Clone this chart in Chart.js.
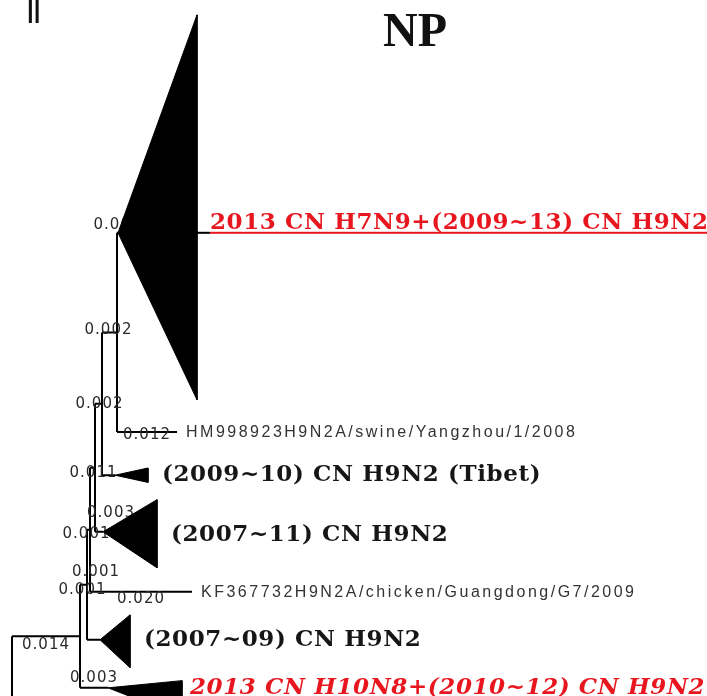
<!DOCTYPE html>
<html lang="en">
<head>
<meta charset="UTF-8">
<title>NP tree</title>
<script src="https://cdn.jsdelivr.net/npm/chart.js"></script>
<style>
  html, body { margin: 0; padding: 0; background: #fff; }
  #wrap { width: 707px; height: 696px; }
</style>
</head>
<body>
<div id="wrap"><canvas id="tree" width="707" height="696"></canvas></div>
<script>
// tree topology: every node, its parent and the branch length drawn to it
const nodeNames   = ['root', 'E', 'G', 'D', 'C', 'A', 'B', 'big', 'HM998923', 'tibet', 'c0711', 'KF367732', 'c0709', 'h10n8', 'out'];
const nodeParents = [null, 'root', 'E', 'G', 'D', 'C', 'A', 'B', 'B', 'A', 'C', 'D', 'G', 'E', 'root'];
const branchLens  = [0, 0.0136, 0.0014, 0.0006, 0.0010, 0.0014, 0.0030, 0.0002, 0.0120, 0.0026, 0.0016, 0.0204, 0.0026, 0.0056, 0.0100];

// leaves in drawing order (row = vertical slot)
const leafNames = ['big', 'HM998923', 'tibet', 'c0711', 'KF367732', 'c0709', 'h10n8', 'out'];
const leafRows  = [4.85, 9.0, 9.9, 11.08, 12.33, 13.33, 14.33, 16];

// collapsed clades (triangles): depth of the clade and its extent above / below
const cladeNames  = ['big', 'tibet', 'c0711', 'c0709', 'h10n8'];
const cladeDepth  = [0.0158, 0.0066, 0.0108, 0.0060, 0.0148];
const cladeUp     = [4.54, 0.15, 0.67, 0.52, 0.15];
const cladeDown   = [3.48, 0.15, 0.75, 0.58, 0.60];
const cladeLabels = ['2013 CN H7N9+(2009~13) CN H9N2', '(2009~10) CN H9N2 (Tibet)', '(2007~11) CN H9N2',
                     '(2007~09) CN H9N2', '2013 CN H10N8+(2010~12) CN H9N2'];
const cladeRed    = [true, false, false, false, true];

// single sequences
const seqNames  = ['HM998923', 'KF367732'];
const seqLabels = ['HM998923H9N2A/swine/Yangzhou/1/2008', 'KF367732H9N2A/chicken/Guangdong/G7/2009'];

// branch length labels and the branch (child node) they belong to
const blText   = ['0.001', '0.002', '0.002', '0.012', '0.011', '0.003', '0.001', '0.001', '0.001', '0.020', '0.014', '0.003'];
const blBranch = ['big', 'B', 'A', 'HM998923', 'C', 'c0711', 'D', 'c0711', 'G', 'KF367732', 'E', 'h10n8'];
// pixel nudges for the labels [dx, dy]
const blNudge  = [[0, -8], [-1, -2], [1, 0], [0, 3], [1, 5], [12, -19], [-2, 4], [-3, 40], [-1, 5], [0, 7], [0, 9], [0, -10]];

const RED = '#e8171f';

// build depth and row of every node
const depth = {}, row = {}, kids = {};
nodeNames.forEach((n, i) => {
    const p = nodeParents[i];
    if (p) (kids[p] = kids[p] || []).push(n);
});
nodeNames.forEach((n, i) => {
    const p = nodeParents[i];
    depth[n] = (p ? depth[p] : 0) + branchLens[i];
});
leafNames.forEach((n, i) => row[n] = leafRows[i]);
function rowOf(n) {
    if (row[n] !== undefined) return row[n];
    const r = kids[n].map(rowOf);
    row[n] = (Math.min(...r) + Math.max(...r)) / 2;
    return row[n];
}
rowOf('root');

// branch segments
const branchPts = [];
nodeNames.forEach((n, i) => {
    const p = nodeParents[i];
    if (p) branchPts.push({x: depth[p], y: row[n]}, {x: depth[n], y: row[n]}, {x: depth[n], y: null});
    if (kids[n]) {
        const r = kids[n].map(k => row[k]);
        branchPts.push({x: depth[n], y: Math.min(...r)}, {x: depth[n], y: Math.max(...r)}, {x: depth[n], y: null});
    }
});

const datasets = [{
    label: 'branches',
    data: branchPts,
    borderColor: '#000',
    borderWidth: 2,
    pointRadius: 0,
    spanGaps: false,
    fill: false,
    order: 10
}];
cladeNames.forEach((n, i) => {
    const x0 = depth[n], x1 = depth[n] + cladeDepth[i], r = row[n];
    datasets.push({
        label: n,
        data: [{x: x0, y: r}, {x: x1, y: r - cladeUp[i]}, {x: x1, y: r + cladeDown[i]}, {x: x0, y: r}],
        borderColor: '#000',
        backgroundColor: '#000',
        borderWidth: 1,
        pointRadius: 0,
        fill: 'shape',
        order: 1
    });
});

const treeText = {
    id: 'treeText',
    afterDatasetDraw(chart, args) {
        if (args.index !== 0) return;
        const {ctx, scales: {x, y}} = chart;
        ctx.save();
        ctx.font = '15px "DejaVu Sans"';
        ctx.letterSpacing = '1px';
        ctx.fillStyle = '#2a2a2a';
        ctx.textAlign = 'center';
        ctx.textBaseline = 'middle';
        blText.forEach((t, i) => {
            const n = blBranch[i];
            const p = nodeParents[nodeNames.indexOf(n)];
            const px = (x.getPixelForValue(depth[p]) + x.getPixelForValue(depth[n])) / 2 + blNudge[i][0];
            const py = y.getPixelForValue(row[n]) + blNudge[i][1];
            ctx.fillText(t, px, py);
        });
        ctx.restore();
    },
    afterDraw(chart) {
        const {ctx, scales: {x, y}} = chart;
        ctx.save();
        // panel mark and title
        ctx.fillStyle = '#111';
        ctx.textBaseline = 'alphabetic';
        ctx.font = 'bold 24px "Liberation Sans"';
        ctx.fillText('||', 27, 18);
        ctx.font = 'bold 48px "Liberation Serif"';
        ctx.textAlign = 'center';
        ctx.fillText('NP', 415, 46);

        // single sequence names
        ctx.textAlign = 'left';
        ctx.textBaseline = 'middle';
        ctx.font = '16px "Liberation Sans"';
        ctx.letterSpacing = '2.5px';
        ctx.fillStyle = '#333';
        seqNames.forEach((n, i) => {
            ctx.fillText(seqLabels[i], x.getPixelForValue(depth[n]) + 9, y.getPixelForValue(row[n]) + 1);
        });

        // clade names
        ctx.letterSpacing = '0.6px';
        cladeNames.forEach((n, i) => {
            const xr = x.getPixelForValue(depth[n] + cladeDepth[i]);
            const py = y.getPixelForValue(row[n]);
            ctx.fillStyle = cladeRed[i] ? RED : '#161616';
            ctx.font = (i === 4 ? 'italic ' : '') + 'bold 23px "DejaVu Serif"';
            if (i === 0) {
                const tx = xr + 13;
                ctx.textBaseline = 'alphabetic';
                ctx.fillText(cladeLabels[i], tx, py - 4);
                const w = ctx.measureText(cladeLabels[i]).width;
                ctx.fillRect(tx, py - 1, w, 2);
                ctx.fillStyle = '#000';
                ctx.fillRect(xr, py - 1, tx - xr, 2);
                ctx.textBaseline = 'middle';
            } else {
                ctx.fillText(cladeLabels[i], xr + (i === 4 ? 8 : 14), py + (i === 2 ? 3 : 0));
            }
        });
        ctx.restore();
    }
};

new Chart(document.getElementById('tree'), {
    type: 'line',
    data: { datasets },
    options: {
        responsive: false,
        animation: false,
        events: [],
        devicePixelRatio: 1,
        layout: { padding: 0 },
        elements: { line: { tension: 0 } },
        scales: {
            x: { type: 'linear', min: -0.0024, max: 0.139, display: false },
            y: { type: 'linear', min: 0, max: 14.5, reverse: true, display: false }
        },
        plugins: { legend: { display: false }, tooltip: { enabled: false } }
    },
    plugins: [treeText]
});
</script>
</body>
</html>
